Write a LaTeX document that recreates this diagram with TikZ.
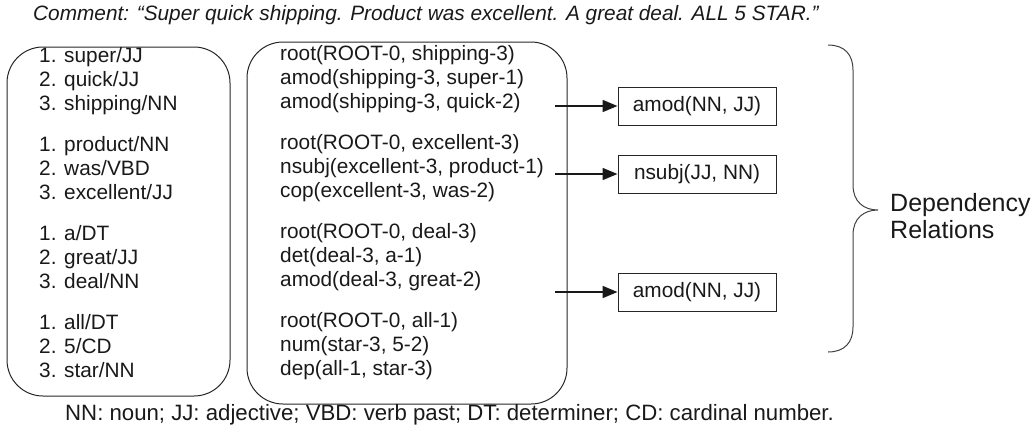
\documentclass[tikz,border=0pt]{standalone}
\usepackage{fontspec}
\setmainfont{Liberation Sans}
\usetikzlibrary{arrows.meta}
\begin{document}
\begin{tikzpicture}[x=1pt,y=-1pt,
  every node/.style={text=black!90},
  txt/.style={anchor=west, inner sep=0pt, font=\fontsize{20.8}{24}\selectfont, text height=15pt, text depth=4.5pt},
  roundbox/.style={draw=black!85, line width=1pt, rounded corners=36pt, inner sep=0pt},
  relbox/.style={draw=black!85, line width=1pt, minimum width=158pt, minimum height=38pt, inner sep=0pt, font=\fontsize{20.8}{24}\selectfont},
  arr/.style={draw=black!90, line width=1.7pt, -{Triangle[length=15pt,width=12pt]}},
  bracestyle/.style={draw=black!75, line width=1pt}
]
\useasboundingbox (0,0) rectangle (1032,437);

% comment
\node[anchor=west, inner sep=0pt, font=\fontsize{20.8}{24}\selectfont\itshape] (comment) at (33,15)
  {Comment: “Super quick shipping. Product was excellent. A great deal. ALL 5 STAR.”};

% boxes
\node[roundbox, minimum width=223pt, minimum height=349pt] (lbox) at (118.5,221.5) {};
\node[roundbox, minimum width=320pt, minimum height=362pt] (mbox) at (407,223) {};

% left texts
\node[txt] (l11) at (39,57)  {1. super/JJ};
\node[txt] (l12) at (39,81)  {2. quick/JJ};
\node[txt] (l13) at (39,105) {3. shipping/NN};
\node[txt] (l21) at (39,146) {1. product/NN};
\node[txt] (l22) at (39,170) {2. was/VBD};
\node[txt] (l23) at (39,194) {3. excellent/JJ};
\node[txt] (l31) at (39,235) {1. a/DT};
\node[txt] (l32) at (39,259) {2. great/JJ};
\node[txt] (l33) at (39,283) {3. deal/NN};
\node[txt] (l41) at (39,324) {1. all/DT};
\node[txt] (l42) at (39,348) {2. 5/CD};
\node[txt] (l43) at (39,372) {3. star/NN};

% middle texts
\node[txt] (m11) at (280,55)  {root(ROOT-0, shipping-3)};
\node[txt] (m12) at (280,79)  {amod(shipping-3, super-1)};
\node[txt] (m13) at (280,103) {amod(shipping-3, quick-2)};
\node[txt] (m21) at (280,144) {root(ROOT-0, excellent-3)};
\node[txt] (m22) at (280,168) {nsubj(excellent-3, product-1)};
\node[txt] (m23) at (280,192) {cop(excellent-3, was-2)};
\node[txt] (m31) at (280,233) {root(ROOT-0, deal-3)};
\node[txt] (m32) at (280,257) {det(deal-3, a-1)};
\node[txt] (m33) at (280,281) {amod(deal-3, great-2)};
\node[txt] (m41) at (280,322) {root(ROOT-0, all-1)};
\node[txt] (m42) at (280,346) {num(star-3, 5-2)};
\node[txt] (m43) at (280,370) {dep(all-1, star-3)};

% relation boxes
\node[relbox] (r1) at (697,106) {amod(NN, JJ)};
\node[relbox] (r2) at (697,174) {nsubj(JJ, NN)};
\node[relbox] (r3) at (697,292) {amod(NN, JJ)};

% arrows
\coordinate (a1) at (555,106);
\coordinate (a2) at (555,174);
\coordinate (a3) at (555,292);
\draw[arr] (a1) -- (r1.west);
\draw[arr] (a2) -- (r2.west);
\draw[arr] (a3) -- (r3.west);

% brace
\coordinate (btop) at (828,45);
\coordinate (btip) at (878,210);
\coordinate (bbot) at (828,352);
\draw[bracestyle] (btop) .. controls (845,45) and (853,55) .. (853,70)
  -- (853,185) .. controls (853,202) and (864,210) .. (btip)
  .. controls (864,210) and (853,218) .. (853,235)
  -- (853,327) .. controls (853,342) and (845,352) .. (bbot);

\node[anchor=west, inner sep=0pt, align=left, font=\fontsize{25}{27}\selectfont] (deprel) at (890,216)
  {Dependency\\Relations};

% footnote
\node[anchor=west, inner sep=0pt, font=\fontsize{22.2}{24}\selectfont] (foot) at (65,415)
  {NN: noun; JJ: adjective; VBD: verb past; DT: determiner; CD: cardinal number.};
\end{tikzpicture}
\end{document}
